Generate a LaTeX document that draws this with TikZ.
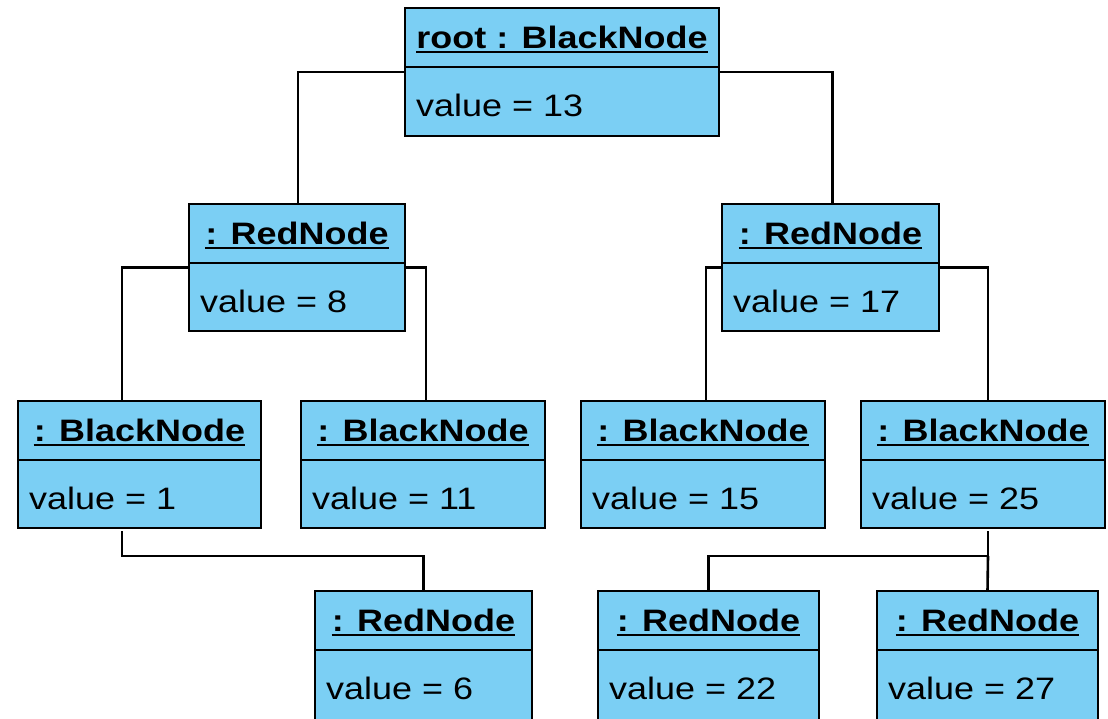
\documentclass[tikz,border=0pt]{standalone}
\usepackage{fontspec}
\usepackage{graphicx}
\setmainfont{Liberation Sans}
\definecolor{objfill}{RGB}{123,207,244}
\tikzset{
  objbox/.style={draw=black, fill=objfill, line width=2.4pt, rectangle, inner sep=0pt, outer sep=0pt, anchor=north west},
  divider/.style={draw=black, line width=1.6pt},
  titletext/.style={inner sep=0pt, anchor=base, font=\fontsize{31}{36}\selectfont\bfseries},
  valtext/.style={inner sep=0pt, anchor=base west, font=\fontsize{31}{36}\selectfont},
  uline/.style={draw=black, line width=2pt},
  conn/.style={draw=black, line width=2.6pt},
}
\newcommand{\umlobj}[7]{%
  \node[objbox, minimum width=#4pt, minimum height=#5pt] (#1) at (#2pt,-#3pt) {};
  \draw[divider] ([yshift=-59pt]#1.north west) -- ([yshift=-59pt]#1.north east);
  \node[titletext] (#1t) at ([yshift=-40pt]#1.north) {\scalebox{1.16}[1]{#6}};
  \draw[uline] ([yshift=-4pt]#1t.base west) -- ([yshift=-4pt]#1t.base east);
  \node[valtext] (#1v) at ([xshift=11pt,yshift=-108pt]#1.north west) {\scalebox{1.16}[1]{#7}};
}
\begin{document}
\begin{tikzpicture}[x=1pt,y=1pt]
\useasboundingbox (0,0) rectangle (1108,-718);
\umlobj{root}{405}{8}{314}{128}{root : BlackNode}{value = 13}
\umlobj{la}{189}{204}{216}{127}{: RedNode}{value = 8}
\umlobj{ra}{722}{204}{217}{127}{: RedNode}{value = 17}
\umlobj{lb}{18}{401}{243}{127}{: BlackNode}{value = 1}
\umlobj{lc}{301}{401}{244}{127}{: BlackNode}{value = 11}
\umlobj{rb}{581}{401}{244}{127}{: BlackNode}{value = 15}
\umlobj{rc}{861}{401}{244}{127}{: BlackNode}{value = 25}
\umlobj{ld}{315}{591}{217}{131}{: RedNode}{value = 6}
\umlobj{rd}{598}{591}{221}{131}{: RedNode}{value = 22}
\umlobj{re}{877}{591}{221}{131}{: RedNode}{value = 27}
% connectors
\draw[conn] (root.west) -| ([xshift=1pt]la.north);
\draw[conn] (root.east) -| ([xshift=2pt]ra.north);
\draw[conn] (la.west) -| ([xshift=104pt]lb.north west);
\draw[conn] (la.east) -| ([xshift=3pt]lc.north);
\draw[conn] (ra.west) -| ([xshift=3pt]rb.north);
\draw[conn] (ra.east) -| ([xshift=5pt]rc.north);
\coordinate (lbj) at ([xshift=104pt,yshift=-28pt]lb.south west);
\draw[conn] ([xshift=104pt,yshift=-3pt]lb.south west) -- (lbj) -| (ld.north);
\coordinate (rcj) at ([xshift=127pt,yshift=-28pt]rc.south west);
\draw[conn] ([xshift=127pt,yshift=-3pt]rc.south west) -- (rcj) -| (rd.north);
\draw[conn] (rcj) -- ([xshift=0pt]re.north);
\end{tikzpicture}
\end{document}
